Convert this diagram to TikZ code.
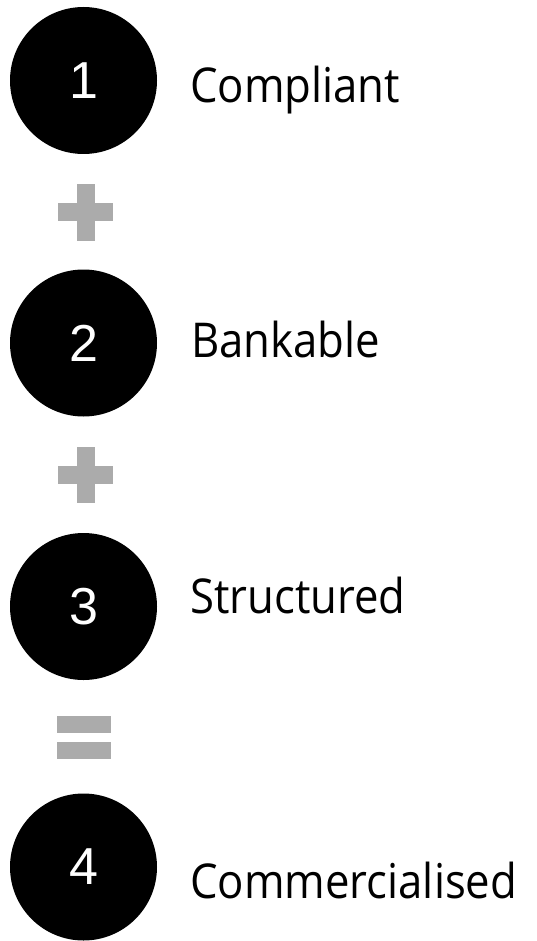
\documentclass[tikz,border=0pt]{standalone}
\usepackage{fontspec}
\setmainfont{Open Sans}[FakeStretch=0.91]
\newfontfamily\digitfont{Liberation Sans}
\definecolor{opgray}{RGB}{171,171,171}
\begin{document}
\begin{tikzpicture}[x=1pt,y=-1pt,
  stepdot/.style={circle,fill=black,minimum size=147pt,inner sep=0pt,
    text=white,font=\digitfont\fontsize{52}{52}\selectfont},
  steplabel/.style={anchor=base west,inner sep=0pt,
    font=\fontsize{48}{48}\selectfont},
  opbar/.style={fill=opgray}]
  \useasboundingbox (0,0) rectangle (536,941);

  % numbered discs
  \node[stepdot] (c1) at (83.5,80.5) {1};
  \node[stepdot] (c2) at (83.5,343) {2};
  \node[stepdot] (c3) at (83.5,606.5) {3};
  \node[stepdot] (c4) at (83.5,867) {4};

  % step names
  \node[steplabel] (t1) at (190,103) {Compliant};
  \node[steplabel] (t2) at (191,357) {Bankable};
  \node[steplabel] (t3) at (190,613) {Structured};
  \node[steplabel] (t4) at (190,898) {Commercialised};

  % plus signs between the steps
  \foreach \cy in {212.5,475} {
    \fill[opbar] (57.5,\cy-9) rectangle (113,\cy+9);
    \fill[opbar] (76.5,\cy-28) rectangle (94.5,\cy+28);
  }

  % equals sign before the result
  \fill[opbar] (57,715.7) rectangle (111,732.7);
  \fill[opbar] (57,742) rectangle (111,759);
\end{tikzpicture}
\end{document}
